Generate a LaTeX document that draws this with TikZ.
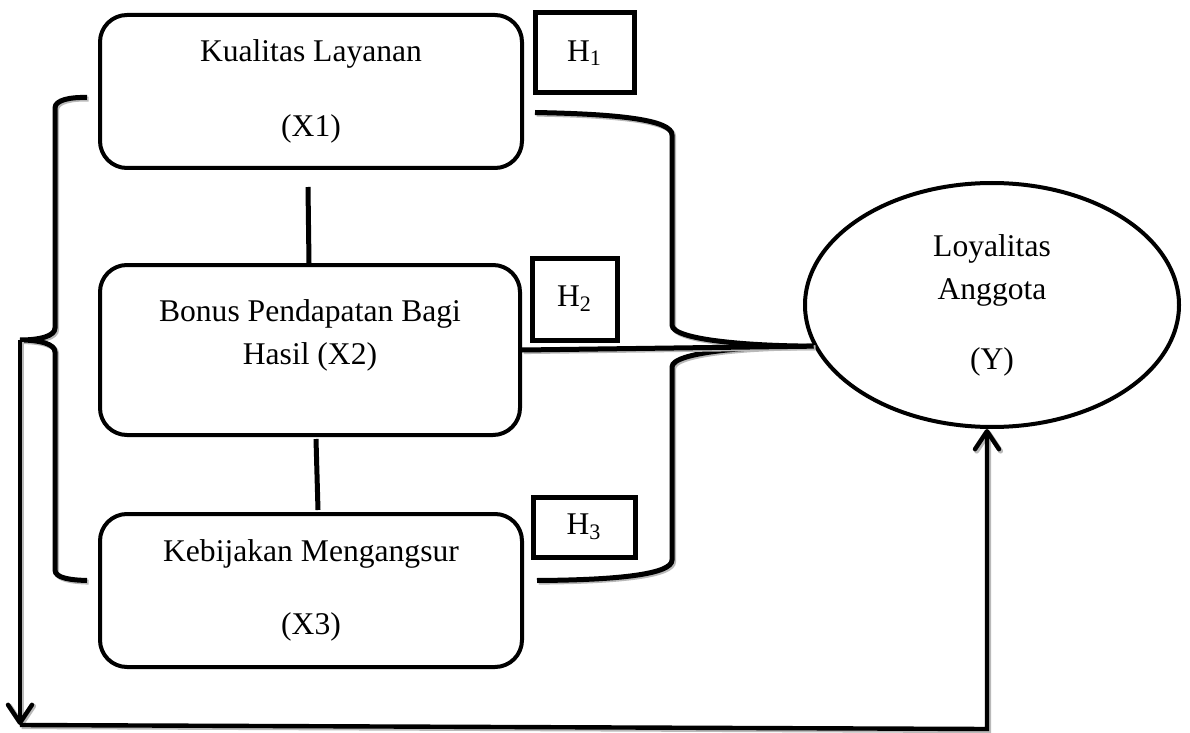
\documentclass[tikz,border=0pt]{standalone}
\usepackage{fontspec}
\setmainfont{Liberation Serif}
\usetikzlibrary{arrows.meta,calc,shapes.geometric}

\begin{document}
\begin{tikzpicture}[x=0.5pt, y=-0.5pt,
    font=\fontsize{15.8}{21.5}\selectfont,
    var/.style={draw, line width=2pt, rounded corners=13.5pt, align=center, inner sep=0pt},
    hyp/.style={draw, line width=2.5pt, inner sep=0pt},
    link/.style={line width=2.5pt, preaction={draw=gray!55, line width=2.5pt, transform canvas={shift={(0.8pt,-0.8pt)}}}},
    >={Straight Barb[length=9pt, width=12pt, round]}]
  \useasboundingbox (0,0) rectangle (1190,733);

  % variables
  \node[var, minimum width=211pt, minimum height=76.5pt] (x1) at (311,91.5) {Kualitas Layanan\\[16pt](X1)};
  \node[var, minimum width=210pt, minimum height=85pt] (x2) at (310,350) {Bonus Pendapatan Bagi\\Hasil (X2)\rule[-18pt]{0pt}{18pt}};
  \node[var, minimum width=211pt, minimum height=76.5pt] (x3) at (311,590.5) {Kebijakan Mengangsur\\[15pt](X3)};
  \node[draw, ellipse, line width=2pt, minimum width=187pt, minimum height=122pt, inner sep=0pt, align=center] (y) at (992,305) {Loyalitas\\Anggota\\[13.5pt](Y)};

  % hypotheses
  \foreach \n/\pos/\w/\h in {1/{584.5,53}/49.5pt/40pt, 2/{574.5,299}/42.5pt/41pt, 3/{584,527}/51pt/30pt} {
    \node[hyp, minimum width=\w, minimum height=\h] (h\n) at (\pos) {H\textsubscript{\n}};
  }

  \draw[line width=2.5pt] ($(x1.south)+(-3,17)$) -- ($(x2.north)+(-1,0)$);
  \draw[line width=2.5pt] ($(x2.south)+(6,2)$) -- ($(x3.north)+(7,-2)$);

  % left brace
  \coordinate (lb) at ($(x1.west)+(-11,6)$);
  \coordinate (le) at ($(x3.west)+(-11,-10)$);
  \coordinate (lt) at (20,340);
  \draw[link] (lb) .. controls (70,97) and (55,100) .. (55,108) -- (55,328)
    .. controls (55,336) and (40,340) .. (lt)
    .. controls (40,340) and (55,344) .. (55,352) -- (55,570)
    .. controls (55,578) and (70,580) .. (le);

  % right brace
  \coordinate (rb) at ($(x1.east)+(11,21)$);
  \coordinate (re) at ($(x3.east)+(13,-10)$);
  \coordinate (rt) at (y.193);
  \draw[link] (rb) .. controls (620,114) and (672,120) .. (672,135) -- (672,325)
    .. controls (672,340) and (750,346) .. (rt)
    .. controls (750,346) and (672,352) .. (672,367) -- (672,560)
    .. controls (672,574) and (620,580) .. (re);
  \draw[link] (x2.east) -- (rt);

  % feedback
  \coordinate (foot) at (20,725);
  \coordinate (bend) at (987,729);
  \draw[link, line width=2.2pt, ->] (lt) -- (foot);
  \draw[link, line width=2.2pt, ->] (foot) -- (bend) -- (bend |- y.south);
\end{tikzpicture}
\end{document}
